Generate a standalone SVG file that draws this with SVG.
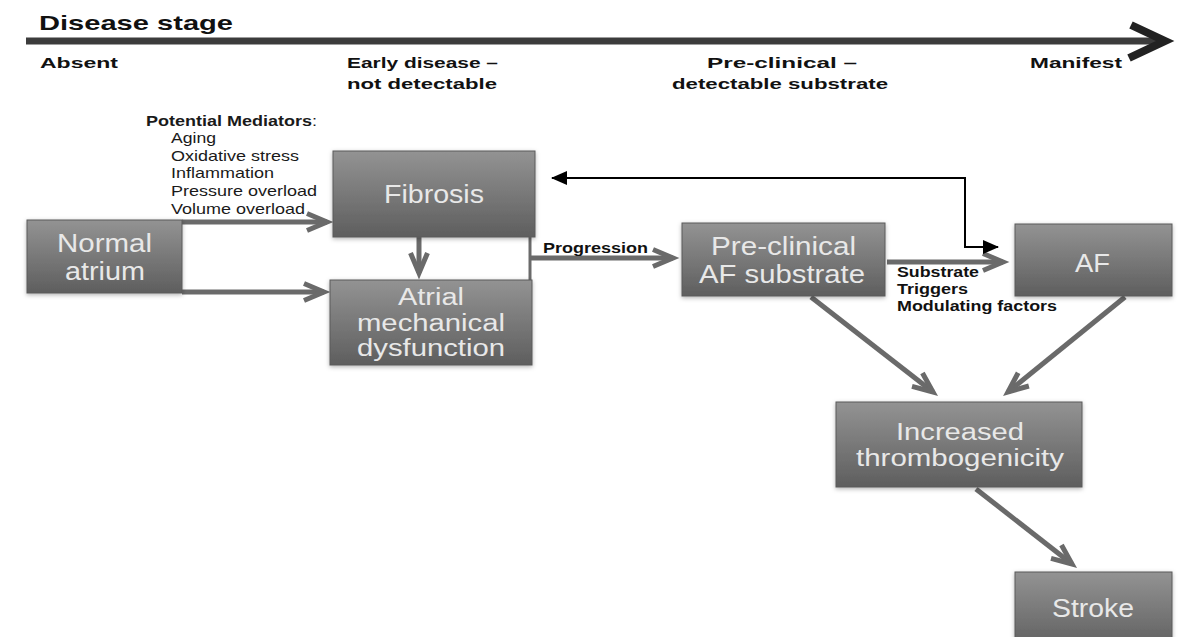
<svg xmlns="http://www.w3.org/2000/svg" width="1192" height="637" viewBox="0 0 1192 637">
<defs>
<style>
.hdr{font-family:"Liberation Sans",Arial,sans-serif;font-weight:bold;font-size:15px;fill:#111}
.sm{font-family:"Liberation Sans",Arial,sans-serif;font-size:15px;fill:#1a1a1a}
.smb{font-family:"Liberation Sans",Arial,sans-serif;font-weight:bold;font-size:14px;fill:#111}
.bt{font-family:"Liberation Sans",Arial,sans-serif;font-size:25px;fill:#e8e8e8}
.bt2{font-family:"Liberation Sans",Arial,sans-serif;font-size:23px;fill:#e8e8e8}
.box{fill:url(#bg);stroke:#5a5a5a;stroke-width:1;filter:url(#sh)}
.con{stroke:#6a6a6a;stroke-width:5;fill:none;marker-end:url(#chev)}
</style>
<linearGradient id="bg" x1="0" y1="0" x2="0" y2="1">
<stop offset="0" stop-color="#939393"/>
<stop offset="1" stop-color="#5e5e5e"/>
</linearGradient>
<filter id="sh" x="-10%" y="-10%" width="120%" height="130%">
<feDropShadow dx="0" dy="1.5" stdDeviation="2" flood-color="#000" flood-opacity="0.3"/>
</filter>
<marker id="chev" markerUnits="userSpaceOnUse" viewBox="0 0 24 20" markerWidth="24" markerHeight="20" refX="22" refY="10" orient="auto" overflow="visible">
<path d="M2,1.5 L22,10 L2,18.5" fill="none" stroke="#6a6a6a" stroke-width="5"/>
</marker>
<marker id="tri" markerUnits="userSpaceOnUse" viewBox="0 0 16 14" markerWidth="16" markerHeight="14" refX="15" refY="7" orient="auto-start-reverse" overflow="visible">
<path d="M0,0 L16,7 L0,14 z" fill="#000"/>
</marker>
</defs>
<rect width="1192" height="637" fill="#fff"/>

<g id="header">
<text x="39" y="30" style="font-family:'Liberation Sans',Arial,sans-serif;font-weight:bold;font-size:21px;fill:#111" textLength="194" lengthAdjust="spacingAndGlyphs">Disease stage</text>
<line x1="26" y1="41" x2="1160" y2="41" stroke="#3c3c3c" stroke-width="7"/>
<polyline points="1131,25 1165,41 1129,58" fill="none" stroke="#222" stroke-width="8"/>
<text class="hdr" x="40" y="68" textLength="78" lengthAdjust="spacingAndGlyphs">Absent</text>
<text class="hdr" x="347" y="68" textLength="151" lengthAdjust="spacingAndGlyphs">Early disease –</text>
<text class="hdr" x="347" y="89" textLength="150" lengthAdjust="spacingAndGlyphs">not detectable</text>
<text class="hdr" x="707" y="68" textLength="150" lengthAdjust="spacingAndGlyphs">Pre-clinical –</text>
<text class="hdr" x="672" y="89" textLength="216" lengthAdjust="spacingAndGlyphs">detectable substrate</text>
<text class="hdr" x="1030" y="68" textLength="92" lengthAdjust="spacingAndGlyphs">Manifest</text>
</g>

<g id="mediators">
<text class="sm" x="146" y="126" textLength="171" lengthAdjust="spacingAndGlyphs"><tspan font-weight="bold">Potential Mediators</tspan>:</text>
<text class="sm" x="171" y="143" textLength="45" lengthAdjust="spacingAndGlyphs">Aging</text>
<text class="sm" x="171" y="161" textLength="128" lengthAdjust="spacingAndGlyphs">Oxidative stress</text>
<text class="sm" x="171" y="178" textLength="103" lengthAdjust="spacingAndGlyphs">Inflammation</text>
<text class="sm" x="171" y="196" textLength="146" lengthAdjust="spacingAndGlyphs">Pressure overload</text>
<text class="sm" x="171" y="214" textLength="134" lengthAdjust="spacingAndGlyphs">Volume overload</text>
</g>

<g id="connectors">
<line class="con" x1="182" y1="222" x2="327" y2="222"/>
<line class="con" x1="182" y1="292" x2="324" y2="292"/>
<line class="con" x1="419" y1="237" x2="419" y2="273"/>
<line x1="530" y1="237" x2="530" y2="280" stroke="#6a6a6a" stroke-width="3"/>
<line class="con" x1="530" y1="258" x2="673" y2="258"/>
<line class="con" x1="887" y1="262" x2="1003" y2="262"/>
<line class="con" x1="811" y1="297" x2="933" y2="392"/>
<line class="con" x1="1125" y1="297" x2="1008" y2="392"/>
<line class="con" x1="976" y1="489" x2="1072" y2="564"/>
<path d="M552,178 L965,178 L965,247 L998,247" fill="none" stroke="#000" stroke-width="2" marker-start="url(#tri)" marker-end="url(#tri)"/>
<text class="smb" x="543" y="253" textLength="105" lengthAdjust="spacingAndGlyphs">Progression</text>
<text class="smb" x="897" y="277" textLength="82" lengthAdjust="spacingAndGlyphs">Substrate</text>
<text class="smb" x="897" y="294" textLength="71" lengthAdjust="spacingAndGlyphs">Triggers</text>
<text class="smb" x="897" y="311" textLength="160" lengthAdjust="spacingAndGlyphs">Modulating factors</text>
</g>

<g id="normal-atrium">
<rect class="box" x="27" y="220" width="155" height="73"/>
<text class="bt" x="57" y="252" textLength="95" lengthAdjust="spacingAndGlyphs">Normal</text>
<text class="bt" x="65" y="280" textLength="80" lengthAdjust="spacingAndGlyphs">atrium</text>
</g>

<g id="fibrosis">
<rect class="box" x="333" y="151" width="202" height="86"/>
<text class="bt" x="384" y="203" textLength="100" lengthAdjust="spacingAndGlyphs">Fibrosis</text>
</g>

<g id="atrial-dysfunction">
<rect class="box" x="330" y="280" width="202" height="85"/>
<text class="bt2" x="398" y="305" textLength="66" lengthAdjust="spacingAndGlyphs">Atrial</text>
<text class="bt2" x="357" y="331" textLength="148" lengthAdjust="spacingAndGlyphs">mechanical</text>
<text class="bt2" x="357" y="356" textLength="148" lengthAdjust="spacingAndGlyphs">dysfunction</text>
</g>

<g id="preclinical-substrate">
<rect class="box" x="682" y="223" width="203" height="73"/>
<text class="bt" x="711" y="255" textLength="145" lengthAdjust="spacingAndGlyphs">Pre-clinical</text>
<text class="bt" x="699" y="283" textLength="166" lengthAdjust="spacingAndGlyphs">AF substrate</text>
</g>

<g id="af">
<rect class="box" x="1015" y="224" width="157" height="72"/>
<text class="bt" x="1075" y="272" textLength="35" lengthAdjust="spacingAndGlyphs">AF</text>
</g>

<g id="thrombogenicity">
<rect class="box" x="836" y="402" width="246" height="85"/>
<text class="bt2" x="896" y="440" textLength="128" lengthAdjust="spacingAndGlyphs">Increased</text>
<text class="bt2" x="856" y="466" textLength="208" lengthAdjust="spacingAndGlyphs">thrombogenicity</text>
</g>

<g id="stroke">
<rect class="box" x="1015" y="572" width="157" height="78"/>
<text class="bt" x="1052" y="617" textLength="82" lengthAdjust="spacingAndGlyphs">Stroke</text>
</g>
</svg>
